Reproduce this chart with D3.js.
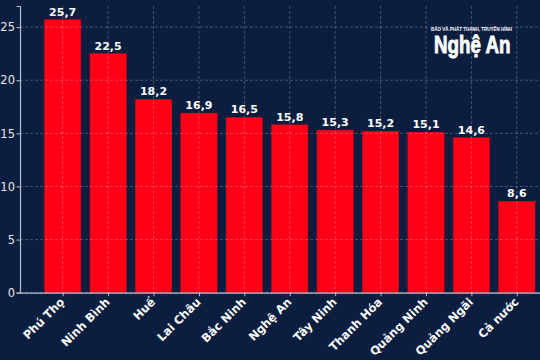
<!DOCTYPE html>
<html>
<head>
  <meta charset="utf-8">
  <title>Bar Chart</title>
  <style>
    body { margin: 0; background: #0b1e3f; }
    svg { display: block; background-color: #0b1e3f; }
    text { font-family: "DejaVu Sans", sans-serif; }
  </style>
</head>
<body>
  <script src="https://d3js.org/d3.v7.min.js"></script>
  <script>
// data
const provinces = ["Phú Thọ", "Ninh Bình", "Huế", "Lai Châu", "Bắc Ninh", "Nghệ An",
  "Tây Ninh", "Thanh Hóa", "Quảng Ninh", "Quảng Ngãi", "Cả nước"];
const values = [25.7, 22.5, 18.2, 16.9, 16.5, 15.8, 15.3, 15.2, 15.1, 14.6, 8.6];
const yTicks = [0, 5, 10, 15, 20, 25];

const width = 540;
const height = 360;

const svg = d3.select("body")
  .append("svg")
  .attr("width", width)
  .attr("height", height);

// scales (matplotlib-like margins, right side runs off the picture)
const x = d3.scaleLinear()
  .domain([-0.94, 10.94])
  .range([20, 559.5]);

const y = d3.scaleLinear()
  .domain([0, 25.7 * 1.05])
  .range([292.7, 6]);

const barW = x(0.8) - x(0);

// bars
svg.append("g")
  .selectAll("rect")
  .data(values)
  .join("rect")
  .attr("x", (d, i) => x(i) - barW / 2)
  .attr("y", d => y(d))
  .attr("width", barW)
  .attr("height", d => y(0) - y(d))
  .attr("fill", "#ff0016")
  .attr("stroke", "#d0001a")
  .attr("stroke-width", 0.6);

// grid on top of bars
const grid = svg.append("g")
  .attr("stroke", "#ffffff")
  .attr("stroke-opacity", 0.3)
  .attr("stroke-width", 0.8)
  .attr("stroke-dasharray", "3,2");

grid.selectAll(".hg")
  .data(yTicks)
  .join("line")
  .attr("x1", 20).attr("x2", width)
  .attr("y1", d => y(d)).attr("y2", d => y(d));

grid.selectAll(".vg")
  .data(provinces)
  .join("line")
  .attr("x1", (d, i) => x(i)).attr("x2", (d, i) => x(i))
  .attr("y1", y.range()[1]).attr("y2", y(0));

// y axis
const yAxis = d3.axisLeft(y)
  .tickValues(yTicks)
  .tickSize(3.5)
  .tickPadding(1.5);

const gy = svg.append("g")
  .attr("transform", "translate(20,0)")
  .call(yAxis);
gy.select(".domain").attr("stroke", "#b8c0cc").attr("stroke-width", 1.2);
gy.selectAll(".tick line").attr("stroke", "#b8c0cc");
gy.selectAll(".tick text")
  .attr("fill", "#e6e6e6")
  .style("font-size", "11.5px")
  .style("font-family", "DejaVu Sans");

// x axis
const xAxis = d3.axisBottom(x)
  .tickValues(d3.range(provinces.length))
  .tickFormat(i => provinces[i])
  .tickSize(3.5)
  .tickSizeOuter(0);

const gx = svg.append("g")
  .attr("transform", `translate(0,${y(0)})`)
  .call(xAxis);
gx.select(".domain").attr("stroke", "#b8c0cc").attr("stroke-width", 1.2);
gx.selectAll(".tick line").attr("stroke", "#b8c0cc");
gx.selectAll(".tick text")
  .attr("fill", "#ffffff")
  .attr("text-anchor", "end")
  .attr("x", 0)
  .attr("y", 0)
  .attr("dy", 0)
  .attr("transform", "translate(2,10) rotate(-45)")
  .style("font-size", "11.5px")
  .style("font-weight", "bold")
  .style("font-family", "DejaVu Sans");

// value labels
svg.append("g")
  .selectAll("text")
  .data(values)
  .join("text")
  .attr("x", (d, i) => x(i))
  .attr("y", d => y(d) - 4)
  .attr("text-anchor", "middle")
  .attr("fill", "#ffffff")
  .style("font-size", "11px")
  .style("font-weight", "bold")
  .text(d => String(d).replace(".", ","));

// logo
const logo = svg.append("g").attr("fill", "#ffffff");
logo.append("text")
  .attr("x", 431).attr("y", 31.3)
  .attr("textLength", 81)
  .attr("lengthAdjust", "spacingAndGlyphs")
  .style("font-family", "Liberation Sans Narrow, Liberation Sans")
  .style("font-weight", "bold")
  .style("font-size", "5.5px")
  .text("BÁO VÀ PHÁT THANH, TRUYỀN HÌNH");
logo.append("text")
  .attr("x", 434).attr("y", 52.7)
  .attr("textLength", 76.5)
  .attr("lengthAdjust", "spacingAndGlyphs")
  .attr("stroke", "#ffffff")
  .attr("stroke-width", 0.8)
  .style("font-family", "Liberation Sans Narrow, Liberation Sans")
  .style("font-weight", "bold")
  .style("font-size", "23px")
  .text("Nghệ An");
  </script>
</body>
</html>
